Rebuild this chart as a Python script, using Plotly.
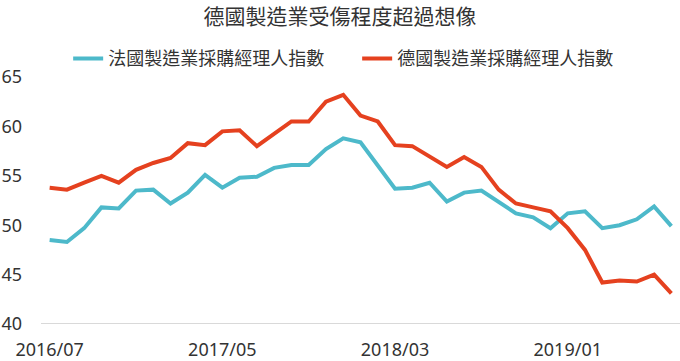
import plotly.graph_objects as go

months = ["2016/07","2016/08","2016/09","2016/10","2016/11","2016/12",
          "2017/01","2017/02","2017/03","2017/04","2017/05","2017/06",
          "2017/07","2017/08","2017/09","2017/10","2017/11","2017/12",
          "2018/01","2018/02","2018/03","2018/04","2018/05","2018/06",
          "2018/07","2018/08","2018/09","2018/10","2018/11","2018/12",
          "2019/01","2019/02","2019/03","2019/04","2019/05","2019/06","2019/07"]

france_pmi = [48.5, 48.3, 49.7, 51.8, 51.7, 53.5, 53.6, 52.2, 53.3, 55.1, 53.8, 54.8,
              54.9, 55.8, 56.1, 56.1, 57.7, 58.8, 58.4, 56.0, 53.7, 53.8, 54.3, 52.4,
              53.3, 53.5, 52.4, 51.2, 50.8, 49.7, 51.2, 51.4, 49.7, 50.0, 50.6, 51.9, 49.9]

germany_pmi = [53.8, 53.6, 54.3, 55.0, 54.3, 55.6, 56.3, 56.8, 58.3, 58.1, 59.5, 59.6,
               58.0, 59.3, 60.5, 60.5, 62.5, 63.2, 61.1, 60.5, 58.1, 58.0, 56.9, 55.9,
               56.9, 55.9, 53.6, 52.2, 51.8, 51.4, 49.7, 47.5, 44.2, 44.4, 44.3, 45.0, 43.1]

tick_months = ["2016/07", "2017/05", "2018/03", "2019/01"]
y_ticks = [40, 45, 50, 55, 60, 65]

names = ["法國製造業採購經理人指數", "德國製造業採購經理人指數"]
colors = ["#4DB9CA", "#E5411F"]

FONT = "Noto Sans, Noto Sans CJK TC, sans-serif"

fig = go.Figure()
for name, vals, col in zip(names, [france_pmi, germany_pmi], colors):
    fig.add_trace(go.Scatter(x=months, y=vals, mode="lines", name=name,
                             line=dict(color=col, width=4)))

fig.update_layout(
    width=680, height=361,
    margin=dict(l=41, r=0, t=77, b=37, autoexpand=False),
    paper_bgcolor="white", plot_bgcolor="white",
    font=dict(family=FONT, size=18, color="#333333"),
    title=dict(text="德國製造業受傷程度超過想像", x=0.5, xanchor="center",
               y=0.955, yanchor="middle", font=dict(size=21, color="#333333")),
    showlegend=True,
    legend=dict(orientation="h", x=0.0425, xanchor="left", y=1.074, yanchor="middle",
                font=dict(size=18, color="#333333"), bgcolor="rgba(0,0,0,0)",
                traceorder="normal", entrywidth=244, entrywidthmode="pixels"),
    xaxis=dict(type="category", range=[-0.5, 36.5], tickmode="array",
               tickvals=tick_months, ticktext=tick_months, showgrid=False,
               showline=False, zeroline=False, ticks="", ticklabelstandoff=13),
    yaxis=dict(range=[40, 65], tickmode="array", tickvals=y_ticks,
               showgrid=False, zeroline=False, showline=False, ticks="",
               ticklabelstandoff=18),
)
fig.add_hline(y=40, line=dict(color="#D9D9D9", width=2), layer="below")

fig.write_html("out.html", config={"displayModeBar": False},
               post_script="document.body.style.margin='0';document.body.style.padding='0';")
